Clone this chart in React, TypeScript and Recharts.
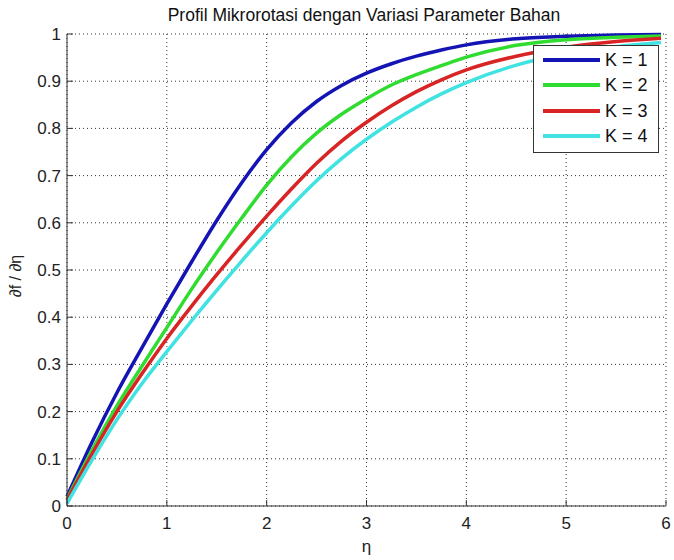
import React from 'react';
import { LineChart, Line, XAxis, YAxis, CartesianGrid, Legend } from 'recharts';

// eta values (x) and the four velocity-gradient profiles
const eta = [0, 0.25, 0.5, 0.75, 1, 1.25, 1.5, 1.75, 2, 2.25, 2.5, 2.75, 3, 3.25, 3.5, 3.75, 4, 4.5, 5, 5.5, 5.95];
const k1 = [0.02, 0.135, 0.24, 0.335, 0.428, 0.518, 0.605, 0.685, 0.755, 0.812, 0.857, 0.891, 0.917, 0.937, 0.953, 0.966, 0.977, 0.99, 0.995, 0.998, 0.999];
const k2 = [0.015, 0.118, 0.212, 0.296, 0.378, 0.46, 0.537, 0.61, 0.68, 0.74, 0.79, 0.83, 0.863, 0.892, 0.914, 0.933, 0.951, 0.976, 0.988, 0.993, 0.996];
const k3 = [0.012, 0.11, 0.2, 0.28, 0.355, 0.424, 0.49, 0.553, 0.614, 0.672, 0.726, 0.773, 0.813, 0.848, 0.878, 0.903, 0.924, 0.953, 0.972, 0.984, 0.991];
const k4 = [0.005, 0.097, 0.183, 0.259, 0.327, 0.393, 0.457, 0.519, 0.579, 0.636, 0.689, 0.736, 0.777, 0.813, 0.845, 0.873, 0.897, 0.934, 0.958, 0.973, 0.982];

const xTicks = [0, 1, 2, 3, 4, 5, 6];
const yTicks = [0, 0.1, 0.2, 0.3, 0.4, 0.5, 0.6, 0.7, 0.8, 0.9, 1];

const seriesNames = ['K = 1', 'K = 2', 'K = 3', 'K = 4'];
const seriesColors = ['#1414b4', '#30dc30', '#d82424', '#40e2e2'];

const data = eta.map((x, i) => ({ eta: x, k1: k1[i], k2: k2[i], k3: k3[i], k4: k4[i] }));

const axisColor = '#333';
const font = '"Liberation Sans", Arial, sans-serif';

function LegendBox(props: any) {
    const items = props.payload || [];
    return (
        <div style={{ width: 126, height: 108, boxSizing: 'border-box', border: '1px solid #333', background: '#fff', paddingTop: 1 }}>
            {items.map((p: any) => (
                <div key={p.value} style={{ display: 'flex', alignItems: 'center', height: 25.5 }}>
                    <div style={{ width: 57, height: 4, marginLeft: 9, background: p.color }} />
                    <span style={{ marginLeft: 5, fontSize: 18, color: '#111', lineHeight: '18px' }}>{p.value}</span>
                </div>
            ))}
        </div>
    );
}

function YLabel(props: any) {
    const vb = props.viewBox;
    const cx = 21;
    const cy = vb.y + vb.height / 2 + 6;
    return (
        <text x={cx} y={cy} transform={`rotate(-90 ${cx} ${cy})`} textAnchor="middle" fontSize={16} fill="#222">
            ∂f / ∂η
        </text>
    );
}

export default function App() {
    return (
        <div style={{ position: 'absolute', left: 0, top: 0, width: 674, height: 560, background: '#fff', fontFamily: font }}>
            <div style={{ position: 'absolute', left: 64, top: 7, width: 600, textAlign: 'center', fontSize: 17.5, lineHeight: '17px', color: '#111' }}>
                Profil Mikrorotasi dengan Variasi Parameter Bahan
            </div>
            <LineChart width={674} height={560} data={data} margin={{ top: 34, right: 8, left: 0, bottom: 0 }}>
                <CartesianGrid strokeDasharray="1 3" stroke="#333" />
                <XAxis
                    dataKey="eta"
                    type="number"
                    domain={[0, 6]}
                    ticks={xTicks}
                    height={54}
                    stroke={axisColor}
                    tickSize={-6}
                    tickMargin={17}
                    tick={{ fill: '#222', fontSize: 17 }}
                    label={{ value: 'η', position: 'insideBottom', offset: 8, fontSize: 17, fill: '#222' }}
                />
                <XAxis
                    xAxisId="top"
                    orientation="top"
                    type="number"
                    domain={[0, 6]}
                    ticks={xTicks}
                    height={0}
                    stroke={axisColor}
                    tickSize={-6}
                    tickFormatter={() => ''}
                    allowDataOverflow
                />
                <YAxis
                    type="number"
                    domain={[0, 1]}
                    ticks={yTicks}
                    width={67}
                    stroke={axisColor}
                    tickSize={-6}
                    tickMargin={12}
                    tick={{ fill: '#222', fontSize: 17 }}
                    tickFormatter={(v: number) => String(v)}
                    label={<YLabel />}
                />
                <YAxis
                    yAxisId="right"
                    orientation="right"
                    type="number"
                    domain={[0, 1]}
                    ticks={yTicks}
                    width={0}
                    stroke={axisColor}
                    tickSize={-6}
                    tickFormatter={() => ''}
                    allowDataOverflow
                />
                <Legend
                    content={<LegendBox />}
                    layout="horizontal"
                    verticalAlign="middle"
                    align="center"
                    wrapperStyle={{ position: 'absolute', left: 533, top: 45, width: 126, height: 108 }}
                />
                {['k1', 'k2', 'k3', 'k4'].map((key, i) => (
                    <Line
                        key={key}
                        type="monotone"
                        dataKey={key}
                        name={seriesNames[i]}
                        stroke={seriesColors[i]}
                        strokeWidth={3.5}
                        dot={false}
                        isAnimationActive={false}
                    />
                ))}
            </LineChart>
        </div>
    );
}
